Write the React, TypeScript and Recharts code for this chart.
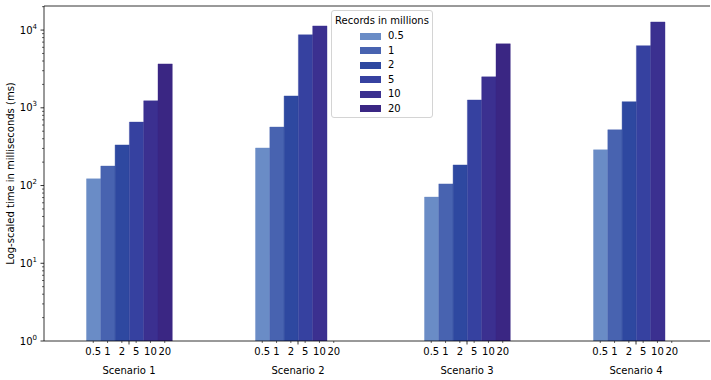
import { BarChart, Bar, XAxis, YAxis, Legend, ReferenceLine } from 'recharts';

const FONT = '"DejaVu Sans", sans-serif';
const BAR_W = 14.3;
const Y_MAX = 20400;

const scenarios = ['Scenario 1', 'Scenario 2', 'Scenario 3', 'Scenario 4'];
const recordSizes = ['0.5', '1', '2', '5', '10', '20'];

// time in ms per scenario, one array per record count
const time05 = [122, 304, 71, 288];
const time1 = [178, 565, 105, 522];
const time2 = [333, 1420, 184, 1200];
const time5 = [655, 8700, 1260, 6300];
const time10 = [1230, 11300, 2500, 12700];
const time20 = [3670, null, 6650, null];

const seriesValues = [time05, time1, time2, time5, time10, time20];
const seriesColors = ['#6a8cc6', '#4863b0', '#2e48a0', '#3641a0', '#3b3090', '#3a2683'];

const majorTicks = [1, 10, 100, 1000, 10000];
const minorMultipliers = [2, 3, 4, 5, 6, 7, 8, 9];
const yTicks = majorTicks
  .flatMap((m) => [m, ...minorMultipliers.map((k) => k * m)])
  .filter((v) => v <= Y_MAX);

const data = scenarios.map((scenario, i) => {
  const row: Record<string, any> = { scenario };
  recordSizes.forEach((_, k) => {
    row[`r${k}`] = seriesValues[k][i];
  });
  return row;
});

function YTick({ x, y, payload }: any) {
  const v = payload.value;
  const exp = Math.round(Math.log10(v));
  const major = Math.abs(v - Math.pow(10, exp)) < 1e-6;
  return (
    <g>
      <line x1={x} x2={x - (major ? 3.5 : 2)} y1={y} y2={y} stroke="#000" strokeWidth={major ? 0.8 : 0.6} />
      {major && (
        <text x={x - 7} y={y + 3.5} textAnchor="end" fontSize={10} fontFamily={FONT} fill="#000">
          10<tspan dy={-5} fontSize={7}>{exp}</tspan>
        </text>
      )}
    </g>
  );
}

function XTick({ x, y, payload }: any) {
  return (
    <g>
      <line x1={x} x2={x} y1={y} y2={y + 3.5} stroke="#000" strokeWidth={0.8} />
      {recordSizes.map((label, k) => {
        const cx = x + (k - 2.5) * BAR_W;
        return (
          <g key={label}>
            <line x1={cx} x2={cx} y1={y} y2={y + 2} stroke="#000" strokeWidth={0.6} />
            <text x={cx} y={y + 14} textAnchor="middle" fontSize={10} fontFamily={FONT} fill="#000">
              {label}
            </text>
          </g>
        );
      })}
      <text x={x} y={y + 33} textAnchor="middle" fontSize={10} fontFamily={FONT} fill="#000">
        {payload.value}
      </text>
    </g>
  );
}

function LegendBox({ payload }: any) {
  const items = [...(payload || [])].sort(
    (a: any, b: any) => recordSizes.indexOf(a.value) - recordSizes.indexOf(b.value)
  );
  return (
    <div
      style={{
        position: 'relative',
        width: 100,
        height: 106,
        border: '1px solid #d4d4d4',
        borderRadius: 3,
        background: 'rgba(255,255,255,0.8)',
        fontFamily: FONT,
        fontSize: 10,
        color: '#000',
      }}
    >
      <div style={{ position: 'absolute', top: 4, left: 0, width: 100, textAlign: 'center', lineHeight: '12px' }}>
        Records in millions
      </div>
      {items.map((entry: any, k: number) => (
        <div key={entry.value} style={{ position: 'absolute', top: 19 + k * 14.5, left: 28, height: 12, display: 'flex', alignItems: 'center' }}>
          <span style={{ display: 'inline-block', width: 21, height: 7, background: entry.color }} />
          <span style={{ marginLeft: 7, lineHeight: '12px' }}>{entry.value}</span>
        </div>
      ))}
    </div>
  );
}

export default function App() {
  return (
    <div style={{ position: 'absolute', left: 0, top: 0, width: 711, height: 380, background: '#fff' }}>
      <BarChart
        width={711}
        height={380}
        data={data}
        margin={{ top: 6, right: 1, bottom: 0, left: 0 }}
        barGap={0}
        barSize={BAR_W}
      >
        <XAxis
          dataKey="scenario"
          type="category"
          height={39}
          padding={{ left: 0.5, right: -10.5 }}
          tickSize={0}
          tickMargin={0}
          tickLine={false}
          axisLine={{ stroke: '#000', strokeWidth: 0.8 }}
          tick={<XTick />}
          interval={0}
        />
        <YAxis
          type="number"
          scale="log"
          domain={[1, Y_MAX]}
          allowDataOverflow
          ticks={yTicks}
          interval={0}
          width={44}
          tickSize={0}
          tickMargin={0}
          tickLine={false}
          axisLine={{ stroke: '#000', strokeWidth: 0.8 }}
          tick={<YTick />}
          label={{
            content: ({ viewBox }: any) => (
              <text
                x={13.5}
                y={viewBox.y + viewBox.height / 2}
                transform={`rotate(-90 13.5 ${viewBox.y + viewBox.height / 2})`}
                textAnchor="middle"
                fontSize={10}
                fontFamily={FONT}
                fill="#000"
              >
                Log-scaled time in milliseconds (ms)
              </text>
            ),
          }}
        />
        <ReferenceLine y={Y_MAX} stroke="#000" strokeWidth={0.8} ifOverflow="visible" />
        {recordSizes.map((size, k) => (
          <Bar
            key={size}
            dataKey={`r${k}`}
            name={size}
            fill={seriesColors[k]}
            stroke={seriesColors[k]}
            strokeWidth={0.4}
            isAnimationActive={false}
          />
        ))}
        <Legend
          layout="horizontal"
          verticalAlign="middle"
          align="center"
          content={<LegendBox />}
          wrapperStyle={{ position: 'absolute', left: 331, top: 10, width: 102, height: 108 }}
        />
      </BarChart>
    </div>
  );
}
